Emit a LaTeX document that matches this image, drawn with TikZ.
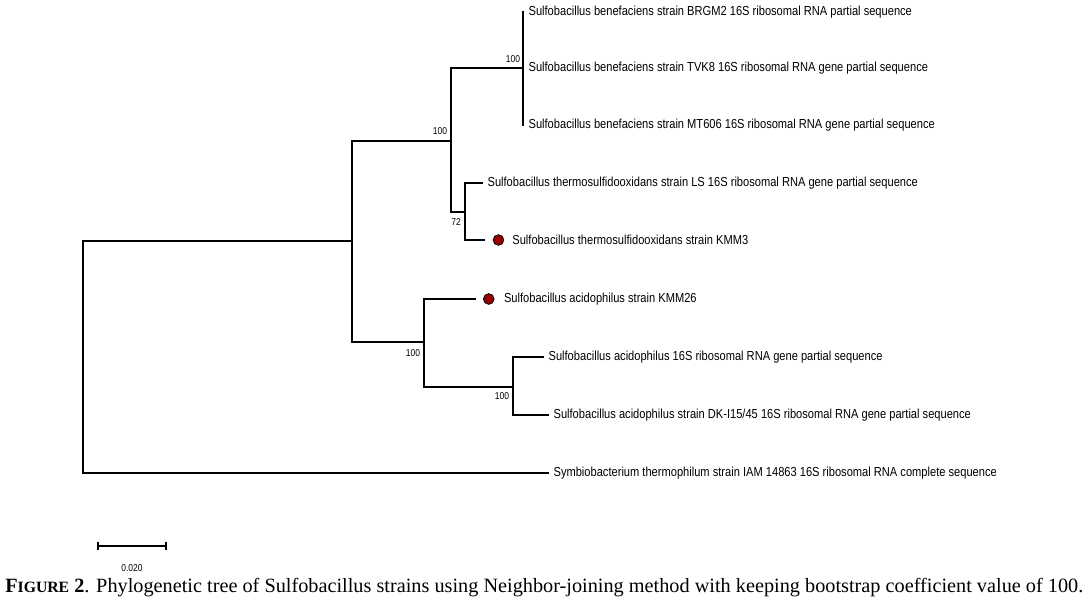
\documentclass[tikz,border=0pt]{standalone}
\usepackage{fontspec}
\setmainfont{Liberation Serif}
\newfontfamily\leaffont[FakeStretch=0.85]{Liberation Sans}
\usepackage{tikz}
\usetikzlibrary{positioning}
\definecolor{dotred}{RGB}{150,0,0}
\tikzset{
  branch/.style={line width=1.2pt, line cap=rect},
  leaf/.style={inner sep=0pt, anchor=west, font=\leaffont\fontsize{9.8}{10}\selectfont},
  boot/.style={inner sep=0pt, font=\leaffont\fontsize{7.5}{8}\selectfont},
  mark dot/.style={circle, draw=black, line width=0.6pt, fill=dotred, minimum size=8pt, inner sep=0pt}
}
\begin{document}
\begin{tikzpicture}[x=0.75pt,y=-0.75pt]
\useasboundingbox (0,0) rectangle (1089,606);
% inner nodes of the tree
\coordinate (r) at (83,241);
\coordinate (A) at (352,241);
\coordinate (B) at (451,141);
\coordinate (C) at (424,342);
\coordinate (D) at (523,68);
\coordinate (E) at (465,212);
\coordinate (F) at (513,387);
% tips
\foreach \n/\x/\y/\t in {
1/523/12/{Sulfobacillus benefaciens strain BRGM2 16S ribosomal RNA partial sequence},
2/523/68/{Sulfobacillus benefaciens strain TVK8 16S ribosomal RNA gene partial sequence},
3/523/125/{Sulfobacillus benefaciens strain MT606 16S ribosomal RNA gene partial sequence},
4/482/183/{Sulfobacillus thermosulfidooxidans strain LS 16S ribosomal RNA gene partial sequence},
7/543/357/{Sulfobacillus acidophilus 16S ribosomal RNA gene partial sequence},
8/548/415/{Sulfobacillus acidophilus strain DK-I15/45 16S ribosomal RNA gene partial sequence},
9/548/473/{Symbiobacterium thermophilum strain IAM 14863 16S ribosomal RNA complete sequence}
}{
\coordinate (t\n) at (\x,\y);
\node[leaf, right=4pt of t\n] (l\n) {\t};
}
\coordinate (t5) at (484,240);
\coordinate (t6) at (475,299);
\node[mark dot, right=6.5pt of t5] (d5) {};
\node[leaf, right=6pt of d5] (l5) {Sulfobacillus thermosulfidooxidans strain KMM3};
\node[mark dot, right=6pt of t6] (d6) {};
\node[leaf, right=7pt of d6] (l6) {Sulfobacillus acidophilus strain KMM26};
% branches
\draw[branch] (r) -- (A);
\draw[branch] (r) |- (t9);
\draw[branch] (A) |- (B);
\draw[branch] (A) |- (C);
\draw[branch] (B) |- (D);
\draw[branch] (B) |- (E);
\draw[branch] (D) |- (t1);
\draw[branch] (D) |- (t2);
\draw[branch] (D) |- (t3);
\draw[branch] (E) |- (t4);
\draw[branch] (E) |- (t5);
\draw[branch] (C) |- (t6);
\draw[branch] (C) |- (F);
\draw[branch] (F) |- (t7);
\draw[branch] (F) |- (t8);
% bootstrap values
\node[boot] (b1) at (513,59) {100};
\node[boot] (b2) at (440,131) {100};
\node[boot] (b3) at (456,222) {72};
\node[boot] (b4) at (413,353) {100};
\node[boot] (b5) at (502,396) {100};
% scale bar
\coordinate (s1) at (98,546);
\coordinate (s2) at (166,546);
\draw[branch, line cap=butt] (s1) -- (s2);
\draw[line width=1.2pt] ([yshift=-3pt]s1) -- ([yshift=3pt]s1);
\draw[line width=1.2pt] ([yshift=-3pt]s2) -- ([yshift=3pt]s2);
\node[boot] (sl) at (132,568) {0.020};
% caption
\node[anchor=west, inner sep=0pt, font=\fontsize{15.2}{17}\selectfont] (cap) at (5,588)
  {\textbf{F{\fontsize{11.8}{12}\selectfont IGURE} 2}. Phylogenetic tree of Sulfobacillus strains using Neighbor-joining method with keeping bootstrap coefficient value of 100.};
\end{tikzpicture}
\end{document}
